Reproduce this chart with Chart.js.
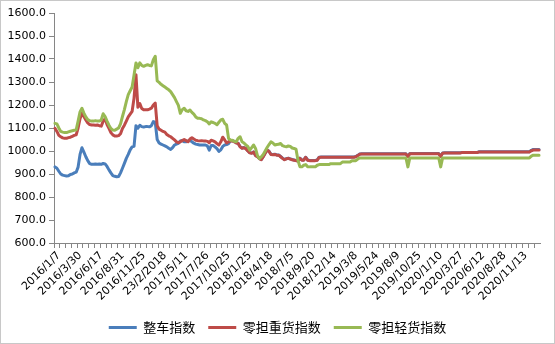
<!DOCTYPE html>
<html>
<head>
<meta charset="utf-8">
<script src="https://cdn.jsdelivr.net/npm/chart.js@4.4.1/dist/chart.umd.min.js"></script>
<style>
  html, body { margin: 0; padding: 0; background: #ffffff; }
  #wrap { width: 555px; height: 344px; position: relative; }
</style>
</head>
<body>
<div id="wrap"><canvas id="chart" width="555" height="344"></canvas></div>
<script>
// Axis labels shown every 11 weekly observations
const tickLabels = [
  '2016/1/7', '2016/3/30', '2016/6/17', '2016/8/31', '2016/11/25', '23/2/2018',
  '2017/5/11', '2017/7/26', '2017/10/25', '2018/1/25', '2018/4/18', '2018/7/5',
  '2018/9/20', '2018/12/14', '2019/3/8', '2019/5/24', '2019/8/9', '2019/10/25',
  '2020/1/10', '2020/3/27', '2020/6/12', '2020/8/28', '2020/11/13'
];
const labelStep = 11;

const seriesNames = ['整车指数', '零担重货指数', '零担轻货指数'];

// 整车指数
const wholeTruck = [
  931, 925, 912, 900, 895, 893, 891, 892, 898, 900, 905,
  908, 930, 985, 1014, 995, 975, 958, 945, 942, 942, 943,
  942, 943, 942, 946, 944, 933, 918, 905, 893, 890, 888,
  889, 905, 925, 946, 968, 985, 1005, 1018, 1020, 1110, 1099,
  1112, 1106, 1104, 1106, 1106, 1105, 1110, 1128, 1125, 1050, 1035,
  1030, 1026, 1022, 1018, 1012, 1007, 1015, 1026, 1030, 1033, 1044,
  1046, 1040, 1040, 1043, 1047, 1040, 1034, 1030, 1028, 1026, 1026,
  1026, 1026, 1022, 1004, 1024, 1024, 1018, 1010, 998, 1005, 1020,
  1026, 1028, 1032, 1045, 1045, 1041, 1036, 1034, 1019, 1013, 1015,
  1011, 1001, 993, 991, 996, 981, 976, 968, 963, 976, 991,
  1005, 999, 986, 985, 986, 983, 983, 976, 969, 963, 967,
  969, 966, 963, 961, 959, 958, 969, 961, 961, 973, 961,
  959, 959, 959, 959, 961, 973, 974, 974, 974, 974, 974,
  974, 974, 974, 974, 974, 974, 974, 974, 974, 974, 974,
  974, 974, 976, 981, 987, 988, 988, 988, 988, 988, 988,
  988, 988, 988, 988, 988, 988, 988, 988, 988, 988, 988,
  988, 988, 988, 988, 988, 988, 988, 976, 989, 989, 989,
  989, 989, 989, 989, 989, 989, 989, 989, 989, 989, 989,
  989, 989, 977, 991, 992, 992, 992, 992, 992, 992, 992,
  992, 992, 994, 994, 994, 994, 994, 994, 994, 994, 994,
  997, 997, 997, 997, 997, 997, 997, 997, 997, 997, 997,
  997, 997, 997, 997, 997, 997, 997, 997, 997, 997, 997,
  997, 997, 997, 997, 997, 1003, 1007, 1007, 1007, 1007
];

// 零担重货指数
const ltlHeavy = [
  1099, 1085, 1068, 1062, 1057, 1055, 1055, 1058, 1060, 1064, 1068,
  1070, 1100, 1140, 1164, 1150, 1135, 1122, 1115, 1113, 1113, 1112,
  1113, 1110, 1108, 1130, 1140, 1115, 1098, 1080, 1070, 1065, 1065,
  1067, 1075, 1098, 1112, 1130, 1148, 1160, 1172, 1230, 1332, 1190,
  1206, 1185, 1179, 1179, 1179, 1182, 1186, 1200, 1208, 1110, 1095,
  1090, 1085, 1082, 1072, 1066, 1062, 1055, 1048, 1040, 1036, 1040,
  1045, 1050, 1045, 1040, 1052, 1058, 1052, 1047, 1045, 1044, 1045,
  1044, 1044, 1042, 1036, 1047, 1044, 1040, 1032, 1026, 1040, 1060,
  1048, 1035, 1040, 1044, 1044, 1040, 1035, 1033, 1018, 1012, 1014,
  1010, 1000, 992, 990, 995, 980, 975, 967, 962, 975, 990,
  1004, 998, 985, 984, 985, 982, 982, 975, 968, 962, 966,
  968, 965, 962, 960, 958, 957, 968, 960, 960, 972, 960,
  958, 958, 958, 958, 960, 972, 973, 973, 973, 973, 973,
  973, 973, 973, 973, 973, 973, 973, 973, 973, 973, 973,
  973, 973, 975, 980, 986, 987, 987, 987, 987, 987, 987,
  987, 987, 987, 987, 987, 987, 987, 987, 987, 987, 987,
  987, 987, 987, 987, 987, 987, 987, 975, 988, 988, 988,
  988, 988, 988, 988, 988, 988, 988, 988, 988, 988, 988,
  988, 988, 976, 990, 991, 991, 991, 991, 991, 991, 991,
  991, 991, 993, 993, 993, 993, 993, 993, 993, 993, 993,
  996, 996, 996, 996, 996, 996, 996, 996, 996, 996, 996,
  996, 996, 996, 996, 996, 996, 996, 996, 996, 996, 996,
  996, 996, 996, 996, 996, 1001, 1004, 1004, 1004, 1004
];

// 零担轻货指数
const ltlLight = [
  1120, 1118, 1100, 1085, 1082, 1080, 1080, 1083, 1086, 1088, 1090,
  1092, 1130, 1170, 1186, 1165, 1148, 1136, 1132, 1130, 1130, 1132,
  1130, 1130, 1135, 1162, 1150, 1130, 1112, 1098, 1091, 1090, 1095,
  1100, 1118, 1150, 1180, 1215, 1245, 1262, 1278, 1330, 1383, 1362,
  1383, 1372, 1368, 1372, 1375, 1372, 1370, 1397, 1412, 1305, 1298,
  1290, 1284, 1278, 1272, 1266, 1258, 1245, 1232, 1215, 1198, 1164,
  1180, 1186, 1175, 1172, 1178, 1168, 1160, 1148, 1142, 1142, 1140,
  1135, 1132, 1127, 1118, 1127, 1124, 1120, 1114, 1125, 1135, 1138,
  1120, 1113, 1055, 1047, 1047, 1042, 1040, 1055, 1062, 1040, 1035,
  1026, 1020, 1004, 1015, 1026, 1011, 980, 967, 975, 985, 1000,
  1015, 1028, 1040, 1035, 1026, 1028, 1029, 1033, 1023, 1020, 1018,
  1022, 1020, 1013, 1011, 1008, 960, 932, 931, 938, 941, 932,
  931, 931, 931, 931, 938, 941, 941, 941, 941, 941, 941,
  945, 945, 945, 945, 945, 945, 952, 952, 952, 952, 952,
  958, 958, 958, 965, 970, 970, 970, 970, 970, 970, 970,
  970, 970, 970, 970, 970, 970, 970, 970, 970, 970, 970,
  970, 970, 970, 970, 970, 970, 970, 931, 970, 970, 970,
  970, 970, 970, 970, 970, 970, 970, 970, 970, 970, 970,
  970, 970, 931, 970, 970, 970, 970, 970, 970, 970, 970,
  970, 970, 970, 970, 970, 970, 970, 970, 970, 970, 970,
  970, 970, 970, 970, 970, 970, 970, 970, 970, 970, 970,
  970, 970, 970, 970, 970, 970, 970, 970, 970, 970, 970,
  970, 970, 970, 970, 970, 978, 982, 982, 982, 982
];

const yMin = 600, yMax = 1600, yStep = 100;

// one category per week; only every 11th carries a visible label
const categories = wholeTruck.map((_, i) =>
  i % labelStep === 0 ? (tickLabels[i / labelStep] || '') : '');

const axisGrey = '#868686';
const tickFont = { family: 'DejaVu Sans', size: 11 };

// thin light frame around the whole figure
const framePlugin = {
  id: 'frame',
  afterDraw(chart) {
    const { ctx, width, height } = chart;
    ctx.save();
    ctx.strokeStyle = '#c8c8c8';
    ctx.lineWidth = 1;
    ctx.strokeRect(0.5, 0.5, width - 1, height - 1);
    ctx.restore();
  }
};

const lineSet = (label, data, color, order) => ({
  label, data, order,
  borderColor: color,
  backgroundColor: color,
  borderWidth: 3,
  pointRadius: 0,
  pointHoverRadius: 0,
  tension: 0,
  borderJoinStyle: 'round',
  borderCapStyle: 'round'
});

new Chart(document.getElementById('chart'), {
  type: 'line',
  data: {
    labels: categories,
    datasets: [
      lineSet(seriesNames[0], wholeTruck, '#4A7EBB', 3),
      lineSet(seriesNames[1], ltlHeavy, '#BE4B48', 2),
      lineSet(seriesNames[2], ltlLight, '#98B954', 1)
    ]
  },
  options: {
    responsive: false,
    animation: false,
    devicePixelRatio: 1,
    layout: { padding: { top: 13, right: 0, bottom: 0, left: 0 } },
    plugins: {
      tooltip: { enabled: false },
      legend: {
        position: 'bottom',
        labels: {
          boxWidth: 28,
          boxHeight: 3,
          padding: 13,
          color: '#000',
          font: { family: 'Noto Sans CJK SC', size: 13 },
          generateLabels(chart) {
            return Chart.defaults.plugins.legend.labels.generateLabels(chart)
              .map(item => Object.assign(item, { lineWidth: 0 }))
              .sort((a, b) => a.datasetIndex - b.datasetIndex);
          }
        }
      }
    },
    scales: {
      x: {
        type: 'category',
        offset: true,
        afterFit(scale) { scale.height = 65; },
        border: { color: axisGrey, width: 1 },
        grid: {
          offset: true,
          drawOnChartArea: false,
          tickLength: 5,
          color: c => (c.index % 3 === 0 ? axisGrey : 'rgba(0,0,0,0)'),
          tickColor: c => (c.index % 3 === 0 ? axisGrey : 'rgba(0,0,0,0)')
        },
        ticks: {
          autoSkip: false,
          minRotation: 45,
          maxRotation: 45,
          padding: 1,
          labelOffset: 4,
          color: '#000',
          font: tickFont
        }
      },
      y: {
        min: yMin,
        max: yMax,
        afterFit(scale) { scale.width = 54; },
        border: { color: axisGrey, width: 1 },
        grid: { drawOnChartArea: false, tickLength: 5, color: axisGrey },
        ticks: {
          stepSize: yStep,
          padding: 3,
          color: '#000',
          font: tickFont,
          callback: v => Number(v).toFixed(1)
        }
      },
      // empty right-hand margin so the plot stops short of the frame
      margin: {
        position: 'right',
        afterFit(scale) { scale.width = 15; },
        grid: { display: false },
        border: { display: false },
        ticks: { display: false }
      }
    }
  },
  plugins: [framePlugin]
});
</script>
</body>
</html>
